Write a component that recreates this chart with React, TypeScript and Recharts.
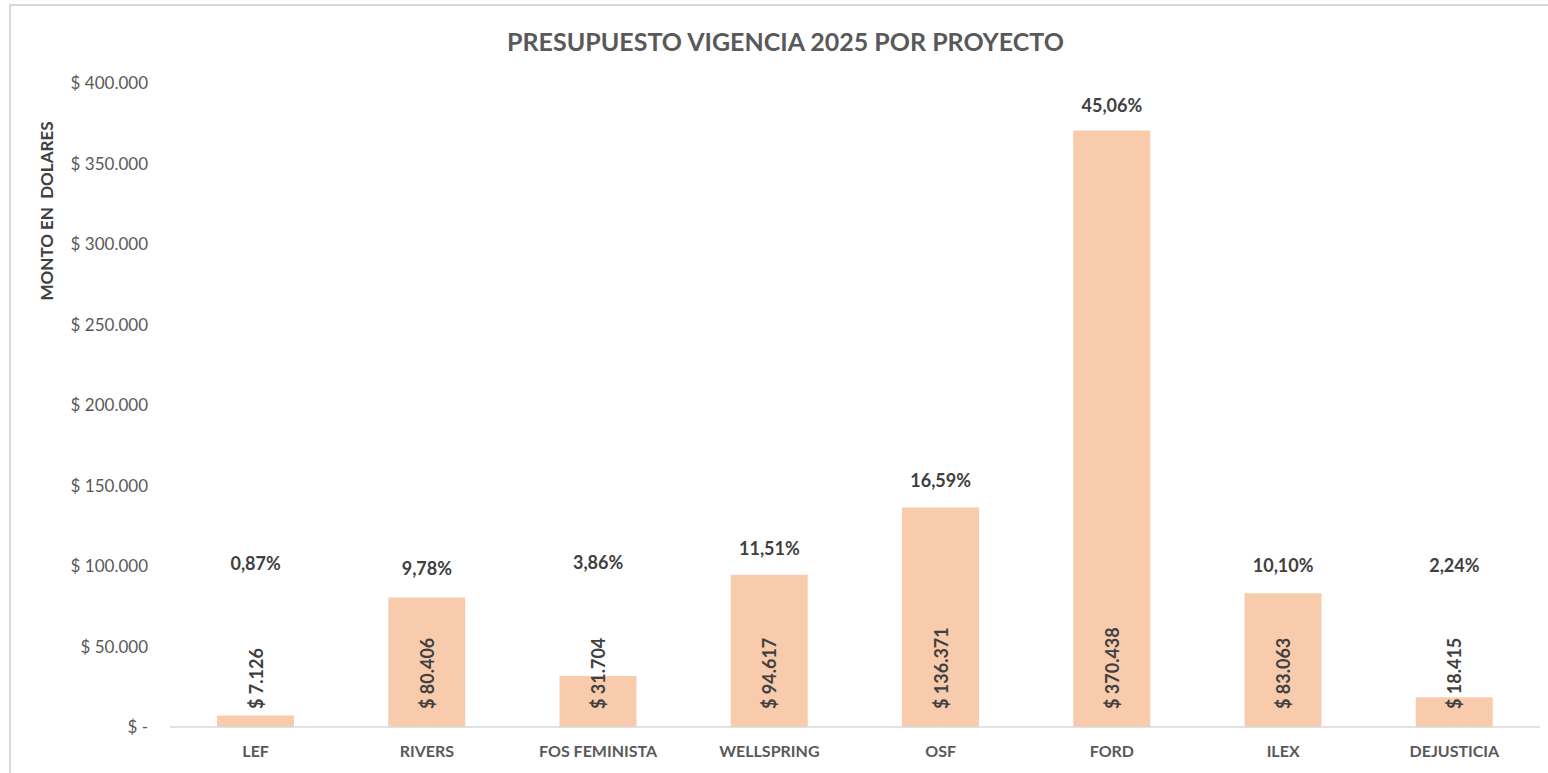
import React from 'react';
import { ComposedChart, Bar, Line, XAxis, YAxis, LabelList } from 'recharts';

const categories = ['LEF', 'RIVERS', 'FOS FEMINISTA', 'WELLSPRING', 'OSF', 'FORD', 'ILEX', 'DEJUSTICIA'];
const amounts = [7126, 80406, 31704, 94617, 136371, 370438, 83063, 18415];
const percentLabels = ['0,87%', '9,78%', '3,86%', '11,51%', '16,59%', '45,06%', '10,10%', '2,24%'];
const percentAnchors = [101900, 98800, 102500, 111400, 153600, 386400, 100500, 100500];
const yTicks = [0, 50000, 100000, 150000, 200000, 250000, 300000, 350000, 400000];

const data = categories.map((name, i) => ({
  name,
  amount: amounts[i],
  pct: percentLabels[i],
  anchor: percentAnchors[i],
}));

const fmt = (v: number) =>
  v === 0 ? '$ -' : '$ ' + Math.round(v).toString().replace(/\B(?=(\d{3})+(?!\d))/g, '.');

const FONT = 'Lato, "Open Sans", sans-serif';

const ValueLabel = (props: any) => {
  const { x, y, width, height, value } = props;
  const cx = Number(x) + Number(width) / 2;
  const by = Number(y) + Number(height) - 18;
  return (
    <text
      x={cx}
      y={by}
      transform={`rotate(-90, ${cx}, ${by})`}
      textAnchor="start"
      dominantBaseline="central"
      fill="#404040"
      fontSize={18}
      fontWeight={700}
      fontFamily={FONT}
    >
      {fmt(Number(value))}
    </text>
  );
};

const PctLabel = (props: any) => {
  const { x, y, value } = props;
  return (
    <text
      x={Number(x)}
      y={Number(y)}
      textAnchor="middle"
      dominantBaseline="central"
      fill="#404040"
      fontSize={18}
      fontWeight={700}
      fontFamily={FONT}
    >
      {value}
    </text>
  );
};

export default function App() {
  return (
    <div
      style={{
        position: 'absolute',
        left: 0,
        top: 0,
        width: 1548,
        height: 773,
        background: '#fff',
        overflow: 'hidden',
        fontFamily: FONT,
      }}
    >
      <div
        style={{
          position: 'absolute',
          left: 9,
          top: 4,
          width: 1600,
          height: 900,
          borderTop: '2px solid #d9d9d9',
          borderLeft: '2px solid #d9d9d9',
        }}
      />
      <svg width={1548} height={773} style={{ position: 'absolute', left: 0, top: 0 }}>
        <text
          x={785.5}
          y={41}
          textAnchor="middle"
          dominantBaseline="central"
          fill="#595959"
          fontSize={25}
          fontWeight={700}
          fontFamily={FONT}
        >
          PRESUPUESTO VIGENCIA 2025 POR PROYECTO
        </text>
        <text
          x={46}
          y={211}
          transform="rotate(-90, 46, 211)"
          textAnchor="middle"
          dominantBaseline="central"
          fill="#404040"
          fontSize={17}
          fontWeight={700}
          fontFamily={FONT}
          style={{ whiteSpace: 'pre' }}
        >
          {'MONTO EN  DOLARES'}
        </text>
      </svg>
      <div style={{ position: 'absolute', left: 0, top: 0 }}>
        <ComposedChart
          width={1548}
          height={773}
          data={data}
          margin={{ top: 83, right: 8, bottom: 16, left: 60 }}
        >
          <XAxis
            dataKey="name"
            interval={0}
            axisLine={{ stroke: '#d9d9d9', strokeWidth: 1.5 }}
            tickLine={false}
            tickSize={6}
            tickMargin={13}
            height={30}
            tick={{ fill: '#595959', fontSize: 16, fontWeight: 700, fontFamily: FONT }}
          />
          <YAxis
            domain={[0, 400000]}
            ticks={yTicks}
            tickFormatter={fmt}
            axisLine={false}
            tickLine={false}
            tickSize={6}
            tickMargin={16}
            width={110}
            tick={{ fill: '#595959', fontSize: 17, fontFamily: FONT }}
          />
          <Bar dataKey="amount" fill="#F8CBAD" barSize={77} isAnimationActive={false}>
            <LabelList dataKey="amount" content={ValueLabel} />
          </Bar>
          <Line
            dataKey="anchor"
            stroke="none"
            dot={false}
            activeDot={false}
            legendType="none"
            isAnimationActive={false}
          >
            <LabelList dataKey="pct" content={PctLabel} />
          </Line>
        </ComposedChart>
      </div>
    </div>
  );
}
